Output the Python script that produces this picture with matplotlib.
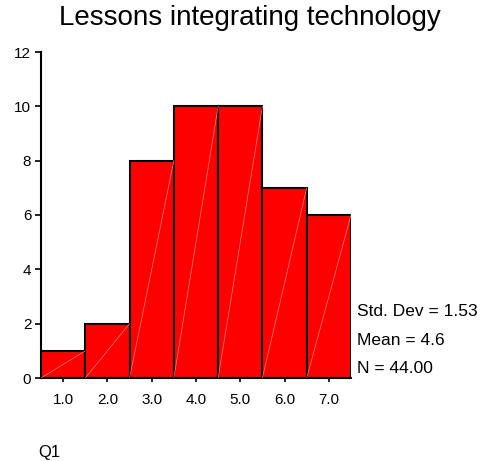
import numpy as np
import matplotlib.pyplot as plt

plt.rcParams['font.family'] = ['Liberation Sans', 'DejaVu Sans']

# data
bin_centers = [1.0, 2.0, 3.0, 4.0, 5.0, 6.0, 7.0]
counts = [1, 2, 8, 10, 10, 7, 6]
tick_labels = ["1.0", "2.0", "3.0", "4.0", "5.0", "6.0", "7.0"]
y_ticks = [0, 2, 4, 6, 8, 10, 12]
stats_lines = ["Std. Dev = 1.53", "Mean = 4.6", "N = 44.00"]

fig = plt.figure(figsize=(4.91, 4.61), dpi=100)
ax = fig.add_axes([41 / 491, 1 - 378 / 461, 310 / 491, 326 / 461])

ax.bar(bin_centers, counts, width=1.0, color="#ff0000", edgecolor="black",
       linewidth=1.5, zorder=2)

# faint diagonal fill lines inside each bar
for c, h in zip(bin_centers, counts):
    ax.plot([c - 0.5, c + 0.5], [0, h], color="#ff8080", lw=0.5, zorder=3)

ax.set_xlim(0.5, 7.5)
ax.set_ylim(0, 12)
ax.set_xticks(bin_centers)
ax.set_xticklabels(tick_labels, fontsize=11)
ax.set_yticks(y_ticks)
ax.set_yticklabels([str(v) for v in y_ticks], fontsize=11)

for s in ["top", "right"]:
    ax.spines[s].set_visible(False)
ax.spines["left"].set_linewidth(1.5)
ax.spines["bottom"].set_linewidth(1.5)
ax.tick_params(axis="y", length=4, width=1.2, pad=3)
ax.tick_params(axis="x", length=3, width=1.2, pad=8)

fig.text(250 / 491, 1 - 18 / 461, "Lessons integrating technology",
         ha="center", va="center", fontsize=20)
fig.text(38 / 491, 1 - 452 / 461, "Q1", ha="left", va="center", fontsize=12)

for i, line in enumerate(stats_lines):
    fig.text(357 / 491, 1 - (312 + 28 * i) / 461, line,
             ha="left", va="center", fontsize=12.5)

fig.savefig("out.png", dpi=100)
